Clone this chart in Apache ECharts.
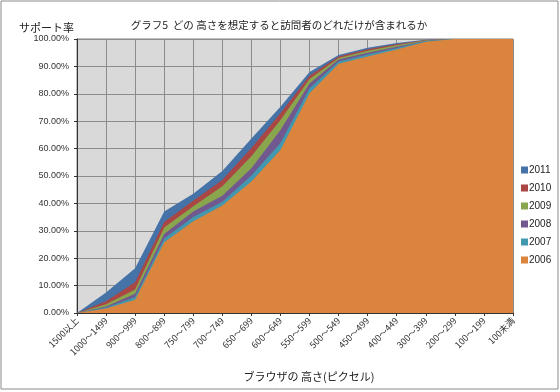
<!DOCTYPE html>
<html>
<head>
<meta charset="utf-8">
<script src="https://cdn.jsdelivr.net/npm/echarts@6/dist/echarts.min.js"></script>
<style>
html,body{margin:0;padding:0;background:#fff;}
#c{width:560px;height:392px;}
</style>
</head>
<body>
<div id="c"></div>
<script>
var categories = ['1500以上','1000～1499','900～999','800～899','750～799','700～749','650～699','600～649','550～599','500～549','450～499','400～449','300～399','200～299','100～199','100未満'];
var s2011 = [0, 7.5, 16.3, 37.0, 43.5, 51.8, 63.7, 75.3, 88.0, 94.2, 96.8, 98.5, 99.7, 100, 100, 100];
var s2010 = [0, 4.3, 11.2, 33.2, 41.0, 48.5, 60.2, 72.9, 86.6, 93.6, 96.3, 98.1, 99.6, 100, 100, 100];
var s2009 = [0, 3.2, 8.6, 31.2, 39.0, 46.3, 57.2, 70.4, 85.4, 93.1, 95.7, 97.7, 99.5, 100, 100, 100];
var s2008 = [0, 2.4, 7.0, 28.8, 37.0, 42.8, 52.8, 66.8, 83.8, 92.5, 95.0, 97.2, 99.4, 100, 100, 100];
var s2007 = [0, 2.0, 5.8, 27.2, 35.0, 40.6, 50.2, 62.0, 82.0, 91.8, 94.3, 96.7, 99.3, 100, 100, 100];
var s2006 = [0, 1.6, 4.8, 25.8, 33.5, 39.2, 48.0, 59.5, 80.2, 91.0, 93.6, 96.2, 99.0, 100, 100, 100];
var seriesNames = ['2011','2010','2009','2008','2007','2006'];
var seriesData = [s2011, s2010, s2009, s2008, s2007, s2006];
var colors = ['#4572A7','#AA4643','#89A54E','#71588F','#4198AF','#DB843D'];

var jp = '"Noto Sans CJK JP", "Noto Sans", sans-serif';
var chart = echarts.init(document.getElementById('c'));
chart.setOption({
  animation: false,
  color: colors,
  title: [
    {text: 'グラフ5  どの 高さを想定すると訪問者のどれだけが含まれるか', left: 274, top: 15, textAlign: 'center',
     textStyle: {fontSize: 10.5, fontWeight: 'normal', color: '#222', fontFamily: jp}},
    {text: 'サポート率', left: 14, top: 17,
     textStyle: {fontSize: 11, fontWeight: 'normal', color: '#222', fontFamily: jp}},
    {text: 'ブラウザの 高さ(ピクセル)', left: 304, top: 366, textAlign: 'center',
     textStyle: {fontSize: 11, fontWeight: 'normal', color: '#222', fontFamily: jp}}
  ],
  legend: {
    orient: 'vertical', left: 516, top: 159,
    itemWidth: 7, itemHeight: 7, itemGap: 6,
    icon: 'rect',
    textStyle: {fontSize: 10, color: '#222', lineHeight: 12, padding: [0,0,0,-4], fontFamily: 'Liberation Sans, Arial, sans-serif'},
    data: seriesNames
  },
  grid: {left: 77, right: 47, top: 39, bottom: 79, show: true, backgroundColor: '#D9D9D9', borderColor: '#7f7f7f', borderWidth: 1},
  xAxis: {
    type: 'category', data: categories, boundaryGap: false,
    axisLine: {show: true, lineStyle: {color: '#333', width: 1}},
    axisTick: {show: true, length: 3, lineStyle: {color: '#333'}},
    axisLabel: {rotate: 45, fontSize: 9, color: '#333', margin: 6, interval: 0, fontFamily: jp},
    splitLine: {show: true, lineStyle: {color: '#8c8c8c', width: 1}}
  },
  yAxis: {
    type: 'value', min: 0, max: 100, interval: 10,
    axisLine: {show: true, lineStyle: {color: '#333', width: 1}},
    axisTick: {show: true, length: 3, lineStyle: {color: '#333'}},
    axisLabel: {fontSize: 9, color: '#333', margin: 8, fontFamily: 'Liberation Sans, Arial, sans-serif',
      formatter: function(v){ return v.toFixed(2) + '%'; }},
    splitLine: {show: true, lineStyle: {color: '#8c8c8c', width: 1}}
  },
  graphic: [{type: 'rect', shape: {x: 1, y: 1, width: 557, height: 388}, style: {fill: 'none', stroke: '#8a8a8a', lineWidth: 1}, z: 100}],
  series: seriesNames.map(function(n, i){
    return {
      name: n, type: 'line', data: seriesData[i], symbol: 'none',
      lineStyle: {width: 0}, areaStyle: {color: colors[i], opacity: 1},
      z: 2 + i
    };
  })
});
</script>
</body>
</html>
